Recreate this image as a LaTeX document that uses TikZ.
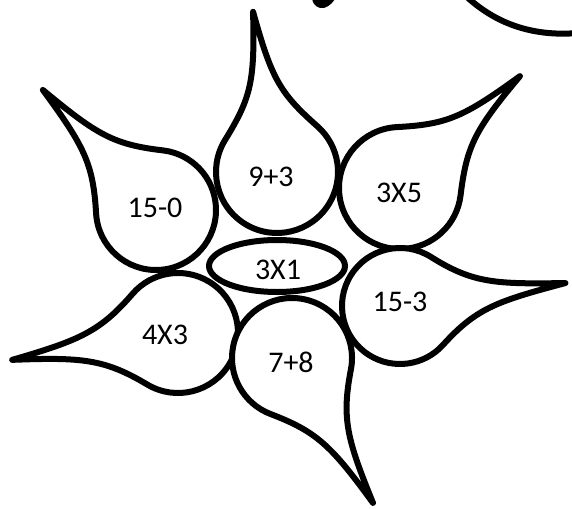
\documentclass[tikz,border=0pt]{standalone}
\usepackage{fontspec}
\setmainfont{Carlito}
\usetikzlibrary{shapes.geometric}
\newcommand\petaldraw[5]{%
  \pgfmathsetmacro\ptB{50}%
  \pgfmathsetmacro\ptCa{50}%
  \pgfmathsetmacro\ptCb{70}%
  \pgfmathsetmacro\ptG{7}%
  \pgfmathsetmacro\ptAx{#3*cos(\ptB)}%
  \pgfmathsetmacro\ptAy{#3*sin(\ptB)}%
  \pgfmathsetmacro\ptPx{\ptAx+\ptCa*sin(\ptB)}%
  \pgfmathsetmacro\ptPy{-\ptAy+\ptCa*cos(\ptB)}%
  \pgfmathsetmacro\ptSy{\ptAy-\ptCa*cos(\ptB)}%
  \pgfmathsetmacro\ptQx{#5-\ptCb*cos(\ptG)}%
  \pgfmathsetmacro\ptQy{\ptCb*sin(\ptG)}%
  \pgfmathsetmacro\ptE{360-\ptB}%
  \begin{scope}[shift={(#1,#2)},rotate=#4]
    \draw[petal] (\ptB:#3) arc[start angle=\ptB, end angle=\ptE, radius=#3]
      .. controls (\ptPx,\ptPy) and (\ptQx,-\ptQy) .. (#5,0)
      .. controls (\ptQx,\ptQy) and (\ptPx,\ptSy) .. cycle;
  \end{scope}}
\begin{document}
\begin{tikzpicture}[x=1pt,y=1pt,line width=6pt,
  petal/.style={draw=black,fill=white,line join=round},
  lbl/.style={font=\fontsize{30}{36}\selectfont,inner sep=0pt}]
\useasboundingbox (0,0) rectangle (572,-508);
% petals: cx, cy, r, tip angle, tip distance
\petaldraw{277}{-172}{61}{98.5}{162}
\petaldraw{156}{-210}{60}{133.3}{165}
\petaldraw{400}{-188}{61}{43}{164}
\petaldraw{400}{-306}{58}{7.9}{167}
\petaldraw{178}{-333}{60}{189.2}{168}
\petaldraw{292}{-358}{60}{-60.8}{166}
\node[draw,ellipse,fill=white,minimum width=136pt,minimum height=52pt,inner sep=0pt] (c) at (277,-266) {};
\node[lbl] (t1) at (271,-177) {9+3};
\node[lbl] (t2) at (155,-208) {15-0};
\node[lbl] (t3) at (399,-193) {3X5};
\node[lbl] (t4) at (400,-302) {15-3};
\node[lbl] (t5) at (165,-335) {4X3};
\node[lbl] (t6) at (291,-362) {7+8};
\node[lbl] (t7) at (278,-270) {3X1};
% partial shapes at top edge
\draw (468,2) .. controls (495,-22) and (530,-37) .. (578,-33);
\fill (312,1) .. controls (313,-5) and (318,-9) .. (324,-8) .. controls (330,-6) and (333,-2) .. (335,1) -- cycle;
\end{tikzpicture}
\end{document}
